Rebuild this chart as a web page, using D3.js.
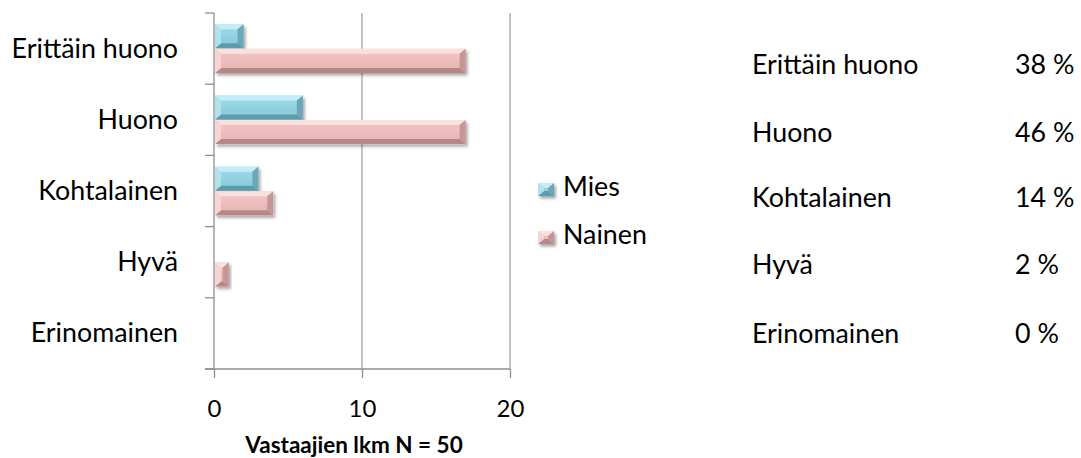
<!DOCTYPE html>
<html>
<head>
<meta charset="utf-8">
<script src="https://cdn.jsdelivr.net/npm/d3@7"></script>
<style>
  html, body { margin: 0; padding: 0; background: #fff; }
  svg { display: block; }
  text { font-family: Lato, "Noto Sans", sans-serif; fill: #000; }
</style>
</head>
<body>
<svg id="chart" width="1081" height="458"></svg>
<script>
// Arviot: vastaajien lukumäärät sukupuolen mukaan
const categories = ["Erittäin huono", "Huono", "Kohtalainen", "Hyvä", "Erinomainen"];
const series = ["Mies", "Nainen"];
const miesValues = [2, 6, 3, 0, 0];
const nainenValues = [17, 17, 4, 1, 0];
const percentValues = [38, 46, 14, 2, 0];
const xTicks = [0, 10, 20];
const xTitle = "Vastaajien lkm N = 50";

const svg = d3.select("#chart");
const defs = svg.append("defs");

// soft drop shadow under the bars
const shadow = defs.append("filter").attr("id", "shadow")
  .attr("x", "-20%").attr("y", "-30%").attr("width", "140%").attr("height", "170%");
shadow.append("feDropShadow").attr("dx", 2).attr("dy", 2.5)
  .attr("stdDeviation", 1.8).attr("flood-color", "#000").attr("flood-opacity", 0.35);

const palette = {
  Mies:   { face0: "#9fdcea", face1: "#86c6d6", top: "#c2eef7", bottom: "#5f9bac", left: "#aee3ee", right: "#6aa8b9" },
  Nainen: { face0: "#f4c6c6", face1: "#e7b2b2", top: "#fbe0e0", bottom: "#b78787", left: "#f7d3d3", right: "#c59696" }
};
series.forEach(s => {
  const g = defs.append("linearGradient").attr("id", "face-" + s)
    .attr("x1", 0).attr("y1", 0).attr("x2", 0).attr("y2", 1);
  g.append("stop").attr("offset", "0%").attr("stop-color", palette[s].face0);
  g.append("stop").attr("offset", "100%").attr("stop-color", palette[s].face1);
});

const x = d3.scaleLinear().domain([0, 20]).range([214, 510]);
const y = d3.scaleBand().domain(categories).range([13, 369]).padding(0);
const ySub = d3.scaleBand().domain(series).range([0, y.bandwidth()])
  .paddingInner(0.02).paddingOuter(0.46);

const axisColor = "#8f8f8f";
const font = "Lato, 'Noto Sans', sans-serif";
const labelSize = 26.8;

// vertical gridlines
svg.append("g").selectAll("line").data(xTicks.filter(t => t > 0)).join("line")
  .attr("x1", d => x(d)).attr("x2", d => x(d))
  .attr("y1", y.range()[0]).attr("y2", y.range()[1])
  .attr("stroke", "#a3a3a3").attr("stroke-width", 1.3);

// bottom value axis
const xAxis = svg.append("g").attr("transform", `translate(0,${y.range()[1]})`)
  .call(d3.axisBottom(x).tickValues(xTicks).tickSize(9).tickSizeOuter(0).tickPadding(22).tickFormat(d3.format("d")));
xAxis.select(".domain").remove();
xAxis.selectAll(".tick line").attr("stroke", axisColor).attr("stroke-width", 1.3);
xAxis.selectAll(".tick text").attr("font-size", 24).attr("fill", "#000")
  .style("font-family", font);
svg.append("line")
  .attr("x1", 205).attr("x2", x(20))
  .attr("y1", y.range()[1]).attr("y2", y.range()[1])
  .attr("stroke", axisColor).attr("stroke-width", 1.3);

// left category axis: boundary ticks, labels centred in each band
const boundaries = categories.map(c => y(c)).concat([y.range()[1]]);
svg.append("line")
  .attr("x1", x(0)).attr("x2", x(0))
  .attr("y1", y.range()[0]).attr("y2", y.range()[1])
  .attr("stroke", axisColor).attr("stroke-width", 1.3);
svg.append("g").selectAll("line").data(boundaries).join("line")
  .attr("x1", 205).attr("x2", x(0))
  .attr("y1", d => d).attr("y2", d => d)
  .attr("stroke", axisColor).attr("stroke-width", 1.3);
svg.append("g").selectAll("text").data(categories).join("text")
  .attr("x", 178).attr("y", d => y(d) + y.bandwidth() / 2 + 9)
  .attr("text-anchor", "end").attr("font-size", labelSize)
  .text(d => d);

svg.append("text")
  .attr("x", 354).attr("y", 453).attr("text-anchor", "middle")
  .attr("font-size", 22.5).attr("font-weight", "bold")
  .text(xTitle);

// bevelled bar drawing
function bevelBar(g, x0, y0, x1, y1, s) {
  const w = x1 - x0, h = y1 - y0;
  if (w <= 0) return;
  const bx = Math.min(6, w / 2), by = Math.min(5, h / 2);
  const p = palette[s];
  g.append("rect").attr("x", x0).attr("y", y0).attr("width", w).attr("height", h)
    .attr("fill", `url(#face-${s})`).attr("filter", "url(#shadow)");
  const poly = (pts, fill) => g.append("polygon")
    .attr("points", pts.map(q => q.join(",")).join(" ")).attr("fill", fill);
  poly([[x0, y0], [x1, y0], [x1 - bx, y0 + by], [x0 + bx, y0 + by]], p.top);
  poly([[x0, y1], [x1, y1], [x1 - bx, y1 - by], [x0 + bx, y1 - by]], p.bottom);
  poly([[x0, y0], [x0 + bx, y0 + by], [x0 + bx, y1 - by], [x0, y1]], p.left);
  poly([[x1, y0], [x1 - bx, y0 + by], [x1 - bx, y1 - by], [x1, y1]], p.right);
}

const rows = [];
categories.forEach((c, i) => {
  rows.push({ cat: c, s: "Mies", v: miesValues[i] });
  rows.push({ cat: c, s: "Nainen", v: nainenValues[i] });
});
const barsG = svg.append("g");
rows.forEach(r => {
  const y0 = y(r.cat) + ySub(r.s);
  bevelBar(barsG.append("g"), x(0) + 1, y0, x(r.v), y0 + ySub.bandwidth(), r.s);
});

// legend
const legend = svg.append("g");
series.forEach((s, i) => {
  const ly = 183 + i * 48;
  bevelBar(legend.append("g"), 538, ly, 554, ly + 13, s);
  legend.append("text").attr("x", 563).attr("y", ly + 13)
    .attr("font-size", labelSize).text(s);
});

// percentage table on the right
const tableY = [74, 142, 207, 274, 343];
const table = svg.append("g");
table.selectAll("text.lbl").data(categories).join("text").attr("class", "lbl")
  .attr("x", 752).attr("y", (d, i) => tableY[i]).attr("font-size", labelSize)
  .text(d => d);
table.selectAll("text.val").data(percentValues).join("text").attr("class", "val")
  .attr("x", 1015).attr("y", (d, i) => tableY[i]).attr("font-size", labelSize)
  .text(d => d + " %");
</script>
</body>
</html>
